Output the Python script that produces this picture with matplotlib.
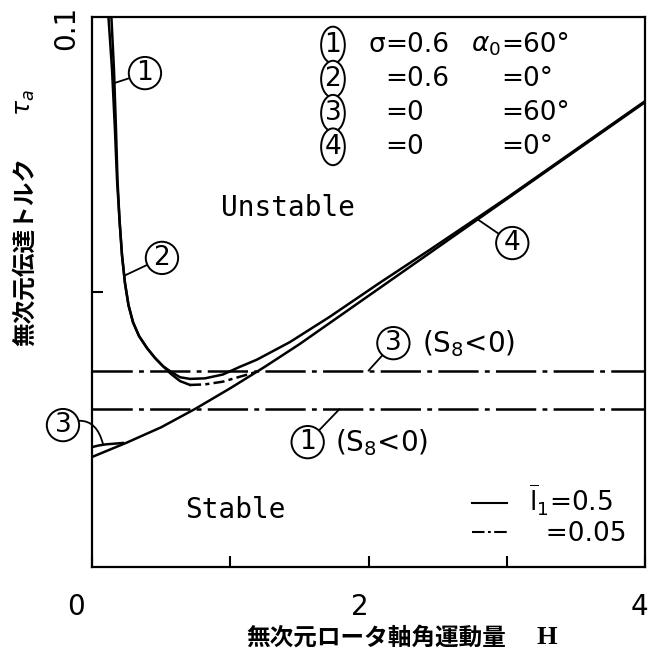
import matplotlib
matplotlib.use("Agg")
import matplotlib.pyplot as plt
from matplotlib.lines import Line2D

plt.rcParams['lines.scale_dashes'] = False
plt.rcParams['mathtext.fontset'] = 'dejavusans'
plt.rcParams['font.family'] = ['DejaVu Sans']

# Nondimensional rotor-shaft angular momentum H and transmitted torque tau_a
# (1) sigma=0.6, alpha0=60 deg
H_c1 = [0.119, 0.145, 0.166, 0.181, 0.199, 0.217, 0.2387, 0.264, 0.2966, 0.340, 0.398,
        0.456, 0.514, 0.571, 0.637, 0.709]
tau_c1 = [0.1000, 0.0904, 0.0795, 0.0704, 0.0631, 0.0567, 0.0516, 0.0476, 0.0445, 0.0420, 0.0398,
          0.0380, 0.0365, 0.0351, 0.0338, 0.0331]
# (1) continued, l1 = 0.05
H_c1b = [0.709, 0.817, 0.947, 1.070, 1.193]
tau_c1b = [0.0331, 0.0332, 0.0337, 0.0346, 0.0355]
# (2) sigma=0.6, alpha0=0 deg
H_c2 = [0.1403, 0.159, 0.1736, 0.1844, 0.199, 0.217, 0.2387, 0.264, 0.2966, 0.340, 0.398,
        0.456, 0.514, 0.571, 0.637, 0.709, 0.817, 0.947, 1.070, 1.193, 1.432, 1.720,
        2.083, 2.445, 2.806, 3.0, 3.5, 4.0]
tau_c2 = [0.1000, 0.0904, 0.0795, 0.0704, 0.0631, 0.0567, 0.0516, 0.0476, 0.0445, 0.0420, 0.0398,
          0.0380, 0.0365, 0.0355, 0.0345, 0.0342, 0.0343, 0.0350, 0.0364, 0.0377, 0.0409, 0.0455,
          0.0517, 0.0577, 0.0638, 0.0671, 0.0759, 0.0847]
# (3) sigma=0, alpha0=60 deg
H_c3 = [0.0, 0.05, 0.10, 0.15, 0.224]
tau_c3 = [0.0218, 0.0221, 0.0223, 0.0224, 0.02255]
# (4) sigma=0, alpha0=0 deg
H_c4 = [0.0, 0.25, 0.5, 0.75, 1.0, 1.25, 1.5, 2.0, 2.5, 3.0, 3.5, 4.0]
tau_c4 = [0.0200, 0.0226, 0.0254, 0.0288, 0.0325, 0.0364, 0.0405, 0.0493, 0.0581, 0.0669, 0.0757, 0.0845]
# S8 < 0 limits for l1 = 0.05
tau_s8_c3 = 0.0357
tau_s8_c1 = 0.0287

x_ticks = [0, 1, 2, 3, 4]
x_ticklabels = ['0', '2', '4']
x_ticklabel_pos = [-0.116, 1.94, 3.96]

fig = plt.figure(figsize=(6.49, 6.57), dpi=100)
ax = fig.add_axes([92 / 649, 90 / 657, 553 / 649, 550 / 657])
ax.set_xlim(0, 4)
ax.set_ylim(0, 0.1)

lw = 1.8
dashdot = (0, (29, 4.5, 3.5, 4.5))

ax.plot(H_c1, tau_c1, color='black', lw=lw)
ax.plot(H_c1b, tau_c1b, color='black', lw=lw, linestyle=(0, (8, 3, 3, 3)))
ax.plot(H_c2, tau_c2, color='black', lw=lw)
ax.plot(H_c3, tau_c3, color='black', lw=lw)
ax.plot(H_c4, tau_c4, color='black', lw=lw)
ax.axhline(tau_s8_c3, color='black', lw=lw, linestyle=dashdot)
ax.axhline(tau_s8_c1, color='black', lw=lw, linestyle=dashdot)

for s in ax.spines.values():
    s.set_linewidth(1.6)
ax.set_xticks(x_ticks)
ax.set_yticks([0.05])
ax.tick_params(direction='in', length=8, width=1.5, labelbottom=False, labelleft=False)

for pos, lab in zip(x_ticklabel_pos, x_ticklabels):
    ax.text(pos, -0.0073, lab, ha='center', va='center', fontsize=20, clip_on=False)
fig.text(66 / 649, 1 - 28 / 657, '0.1', rotation=90, ha='center', va='center', fontsize=20)

# axis titles
fig.text(376 / 649, 1 - 638 / 657, '無次元ロータ軸角運動量', ha='center', va='center',
         fontsize=17, fontweight='bold', family=['Noto Sans CJK JP'])
fig.text(547 / 649, 1 - 638 / 657, 'H', ha='center', va='center', fontsize=19,
         fontweight='bold', family=['Liberation Serif'])
fig.text(25 / 649, 1 - 252 / 657, '無次元伝達トルク', rotation=90, ha='center', va='center',
         fontsize=17, fontweight='bold', family=['Noto Sans CJK JP'])
fig.text(25 / 649, 1 - 103 / 657, r'$\tau_{a}$', rotation=90, ha='center', va='center',
         fontsize=18)

# region names
ax.text(1.42, 0.0653, 'Unstable', ha='center', va='center', fontsize=20, family=['DejaVu Sans Mono'])
ax.text(1.034, 0.0104, 'Stable', ha='center', va='center', fontsize=20, family=['DejaVu Sans Mono'])

circ = dict(boxstyle='circle,pad=0.12', fc='white', ec='black', lw=1.4)
lead = dict(arrowstyle='-', color='black', lw=1.3, shrinkA=0, shrinkB=0)

ax.annotate('1', xy=(0.163, 0.088), xytext=(0.383, 0.0898), ha='center', va='center',
            fontsize=19, bbox=circ, arrowprops=lead)
ax.annotate('2', xy=(0.237, 0.053), xytext=(0.506, 0.0562), ha='center', va='center',
            fontsize=19, bbox=circ, arrowprops=lead)
ax.annotate('3', xy=(0.08, 0.0223), xytext=(-0.21, 0.0258), ha='center', va='center',
            fontsize=19, bbox=circ, annotation_clip=False,
            arrowprops=dict(lead, connectionstyle='arc3,rad=-0.6'))
ax.annotate('4', xy=(2.79, 0.0632), xytext=(3.04, 0.0589), ha='center', va='center',
            fontsize=19, bbox=circ, arrowprops=lead)
ax.annotate('3', xy=(2.0, tau_s8_c3), xytext=(2.18, 0.0407), ha='center', va='center',
            fontsize=19, bbox=circ, arrowprops=lead)
ax.text(2.39, 0.0407, r'(S$_8$<0)', ha='left', va='center', fontsize=20)
ax.annotate('1', xy=(1.79, tau_s8_c1), xytext=(1.56, 0.0227), ha='center', va='center',
            fontsize=19, bbox=circ, arrowprops=lead)
ax.text(1.76, 0.0227, r'(S$_8$<0)', ha='left', va='center', fontsize=20)

# case table
ell = dict(boxstyle='ellipse,pad=0.0', fc='white', ec='black', lw=1.4)
case_ids = ['1', '2', '3', '4']
case_sigma = ['0.6', '0.6', '0', '0']
case_alpha = ['60°', '0°', '60°', '0°']
row_tau = [0.0949, 0.0887, 0.0825, 0.0764]
for i, (cid, sg, al, ty) in enumerate(zip(case_ids, case_sigma, case_alpha, row_tau)):
    ax.text(1.743, ty, cid, ha='center', va='center', fontsize=19, bbox=ell)
    if i == 0:
        ax.text(2.119, ty, 'σ', ha='right', va='center', fontsize=19)
        ax.text(2.958, ty, r'$\alpha_0$', ha='right', va='center', fontsize=19)
    ax.text(2.119, ty, '=' + sg, ha='left', va='center', fontsize=19)
    ax.text(2.958, ty, '=' + al, ha='left', va='center', fontsize=19)

handles = [Line2D([], [], color='black', lw=1.5),
           Line2D([], [], color='black', lw=1.5, linestyle=(0, (9, 2.5, 2, 2.5)))]
labels = [r'$\overline{\mathrm{l}}_1$=0.5', '  =0.05']
ax.legend(handles, labels, loc='lower right', bbox_to_anchor=(1.0, 0.003), frameon=False,
          fontsize=19, handlelength=1.3, handletextpad=0.85, labelspacing=0.1,
          borderpad=0.2)

fig.savefig('out.png', dpi=100, facecolor='white')
